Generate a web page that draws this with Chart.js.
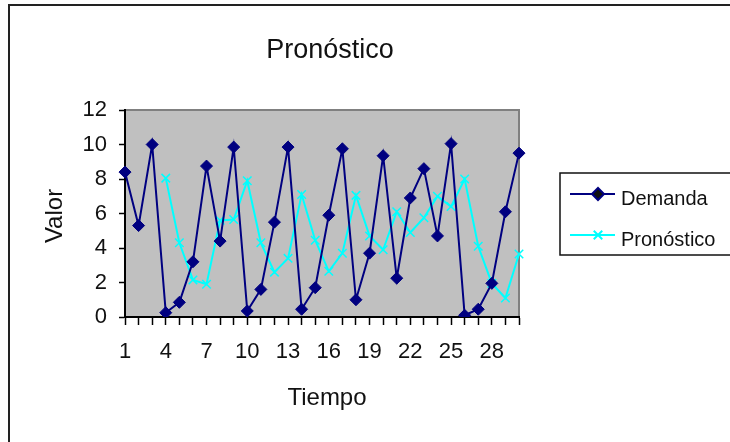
<!DOCTYPE html>
<html>
<head>
<meta charset="utf-8">
<script src="https://cdn.jsdelivr.net/npm/chart.js@4/dist/chart.umd.min.js"></script>
<style>
  html, body { margin: 0; padding: 0; background: #fff; }
  #wrap { width: 730px; height: 442px; }
</style>
</head>
<body>
<div id="wrap"><canvas id="chart" width="730" height="442"></canvas></div>
<script>
const periodos = Array.from({ length: 30 }, (_, i) => String(i + 1));

const demanda = [8.4, 5.3, 10.0, 0.25, 0.85, 3.2, 8.75, 4.4, 9.85, 0.35,
                 1.6, 5.5, 9.85, 0.45, 1.7, 5.9, 9.75, 1.0, 3.7, 9.35,
                 2.25, 6.9, 8.6, 4.7, 10.05, 0.1, 0.45, 1.95, 6.1, 9.5];

const pronostico = [null, null, null, 8.05, 4.3, 2.15, 1.9, 5.6, 5.65, 7.9,
                    4.3, 2.6, 3.4, 7.1, 4.45, 2.65, 3.7, 7.05, 4.7, 3.9,
                    6.1, 4.9, 5.75, 7.0, 6.4, 8.0, 4.1, 1.95, 1.1, 3.65];

const yTicks = [0, 2, 4, 6, 8, 10, 12];

const FONT = "'Liberation Sans', Arial, sans-serif";
const NAVY = '#000080';
const CYAN = '#00FFFF';

// gray plot area with its thin border, drawn under the lines
const plotBackground = {
  id: 'plotBackground',
  beforeDraw(chart) {
    const { ctx, chartArea: a } = chart;
    ctx.save();
    ctx.fillStyle = '#C0C0C0';
    ctx.fillRect(a.left, a.top, a.right - a.left, a.bottom - a.top);
    ctx.strokeStyle = '#808080';
    ctx.lineWidth = 2;
    ctx.beginPath();
    ctx.moveTo(a.left, a.top);
    ctx.lineTo(a.right, a.top);
    ctx.lineTo(a.right, a.bottom);
    ctx.stroke();
    ctx.restore();
  }
};

// outer frame, titles and the boxed legend
const decorations = {
  id: 'decorations',
  afterDraw(chart) {
    const ctx = chart.ctx;
    ctx.save();

    ctx.strokeStyle = '#222';
    ctx.lineWidth = 2;
    ctx.strokeRect(9, 5, 760, 470);

    ctx.fillStyle = '#111';
    ctx.textAlign = 'center';
    ctx.textBaseline = 'alphabetic';
    ctx.font = '27px ' + FONT;
    ctx.fillText('Pronóstico', 330, 58);

    ctx.font = '24px ' + FONT;
    ctx.fillText('Tiempo', 327, 405);

    ctx.save();
    ctx.translate(62, 216);
    ctx.rotate(-Math.PI / 2);
    ctx.fillText('Valor', 0, 0);
    ctx.restore();

    // legend
    ctx.strokeStyle = '#111';
    ctx.lineWidth = 1.5;
    ctx.strokeRect(560, 173, 200, 82);

    const items = chart.data.datasets;
    const rows = [194, 235];
    items.forEach((ds, i) => {
      const y = rows[i];
      ctx.strokeStyle = ds.borderColor;
      ctx.lineWidth = 2;
      ctx.beginPath();
      ctx.moveTo(570, y);
      ctx.lineTo(615, y);
      ctx.stroke();
      Chart.helpers.drawPoint(ctx, {
        pointStyle: ds.pointStyle,
        radius: ds.pointRadius,
        borderWidth: ds.pointBorderWidth || 1,
        rotation: 0
      }, 598, y);
      ctx.fillStyle = '#111';
      ctx.font = '20px ' + FONT;
      ctx.textAlign = 'left';
      ctx.fillText(ds.label, 621, y + 11);
    });

    ctx.restore();
  }
};

const ctx = document.getElementById('chart').getContext('2d');

new Chart(ctx, {
  type: 'line',
  data: {
    labels: periodos,
    datasets: [
      {
        label: 'Demanda',
        data: demanda,
        borderColor: NAVY,
        backgroundColor: NAVY,
        borderWidth: 2,
        pointStyle: 'rectRot',
        pointRadius: 6,
        pointBackgroundColor: NAVY,
        pointBorderColor: NAVY,
        pointBorderWidth: 1,
        tension: 0
      },
      {
        label: 'Pronóstico',
        data: pronostico,
        borderColor: CYAN,
        backgroundColor: CYAN,
        borderWidth: 2,
        pointStyle: 'crossRot',
        pointRadius: 6,
        pointBorderColor: CYAN,
        pointBorderWidth: 1.5,
        tension: 0
      }
    ]
  },
  options: {
    responsive: false,
    animation: false,
    layout: { padding: { left: 0, top: 110, right: 211, bottom: 0 } },
    plugins: {
      legend: { display: false },
      title: { display: false },
      tooltip: { enabled: false }
    },
    scales: {
      x: {
        type: 'category',
        offset: false,
        afterFit(scale) { scale.height = 125; },
        grid: {
          drawOnChartArea: false,
          drawTicks: true,
          tickLength: 8,
          tickColor: '#000',
          tickWidth: 1.5
        },
        border: { display: true, color: '#000', width: 2 },
        ticks: {
          autoSkip: false,
          maxRotation: 0,
          padding: 14,
          color: '#111',
          font: { family: FONT, size: 22 },
          callback(value, index) {
            return index % 3 === 0 ? periodos[index] : '';
          }
        }
      },
      y: {
        min: yTicks[0],
        max: yTicks[yTicks.length - 1],
        afterFit(scale) { scale.width = 125; },
        afterBuildTicks(scale) {
          scale.ticks = yTicks.map(v => ({ value: v }));
        },
        grid: {
          drawOnChartArea: false,
          drawTicks: true,
          tickLength: 6,
          tickColor: '#000',
          tickWidth: 1.5
        },
        border: { display: true, color: '#000', width: 2 },
        ticks: {
          padding: 12,
          color: '#111',
          font: { family: FONT, size: 22 }
        }
      }
    }
  },
  plugins: [plotBackground, decorations]
});
</script>
</body>
</html>
